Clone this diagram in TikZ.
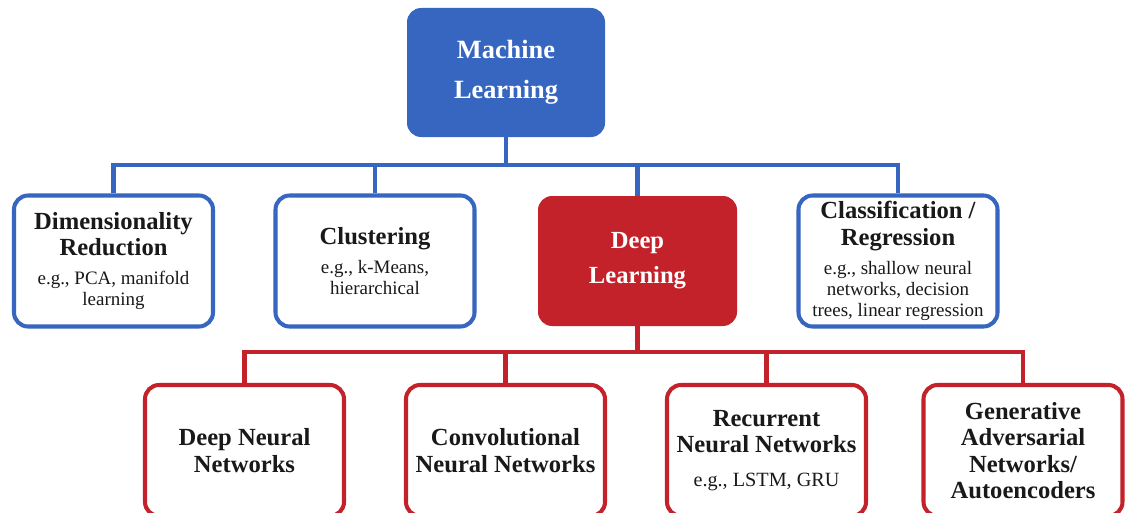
\documentclass[tikz,border=0pt]{standalone}
\usepackage{fontspec}
\setmainfont{Liberation Serif}
\definecolor{mlblue}{RGB}{54,102,191}
\definecolor{dlred}{RGB}{196,34,42}
\newcommand{\subtxt}{\fontsize{10.8}{12}\selectfont\mdseries}

\begin{document}
\begin{tikzpicture}[
    outerbox/.style={draw, line width=2.3pt, rounded corners=8pt, fill=white, minimum width=3.98cm, minimum height=2.62cm, align=center, text=black!90, font=\fontsize{14}{15}\selectfont\bfseries},
    bluebox/.style={outerbox, draw=mlblue},
    redbox/.style={outerbox, draw=dlred},
    mainbox/.style={fill=mlblue, rounded corners=8pt, minimum width=3.96cm, minimum height=2.58cm, align=center, text=white, font=\fontsize{15}{23}\selectfont\bfseries},
    deepbox/.style={fill=dlred, rounded corners=8pt, minimum width=3.98cm, minimum height=2.6cm, align=center, text=white, font=\fontsize{14}{20}\selectfont\bfseries},
    blueline/.style={draw=mlblue, line width=2.3pt},
    redline/.style={draw=dlred, line width=2.3pt}]
    \clip (0,0) rectangle (22.52,10.24);

    \node[mainbox] (ml) at (10.12, 8.79) {Machine\\Learning};

    \node[bluebox] (dim) at (2.27, 5.02) {Dimensionality\\Reduction\\[1.5pt]\subtxt e.g., PCA, manifold\\[-3pt]\subtxt learning};
    \node[bluebox] (clus) at (7.50, 5.02) {Clustering\\[1.5pt]\subtxt e.g., k-Means,\\[-3.5pt]\subtxt hierarchical};
    \node[deepbox] (deep) at (12.75, 5.02) {Deep\\Learning};
    \node[bluebox] (clas) at (17.96, 5.02) {Classification /\\Regression\\[1.5pt]\subtxt e.g., shallow neural\\[-3pt]\subtxt networks, decision\\[-3pt]\subtxt trees, linear regression};

    \node[redbox] (dnn) at (4.89, 1.23) {Deep Neural\\Networks};
    \node[redbox] (cnn) at (10.11, 1.23) {Convolutional\\Neural Networks};
    \node[redbox] (rnn) at (15.33, 1.23) {Recurrent\\Neural Networks\\[4pt]{\fontsize{11.5}{12}\selectfont\mdseries e.g., LSTM, GRU}};
    \node[redbox] (gan) at (20.46, 1.23) {Generative\\Adversarial\\Networks/\\Autoencoders};

    \coordinate (mlbus) at (10.12, 6.94);
    \coordinate (dlbus) at (12.75, 3.20);

    \foreach \n in {dim, clus, deep, clas}
        \draw[blueline] (ml.south) -- (mlbus) -| (\n.north);
    \foreach \n in {dnn, cnn, rnn, gan}
        \draw[redline] (deep.south) -- (dlbus) -| (\n.north);
\end{tikzpicture}
\end{document}
